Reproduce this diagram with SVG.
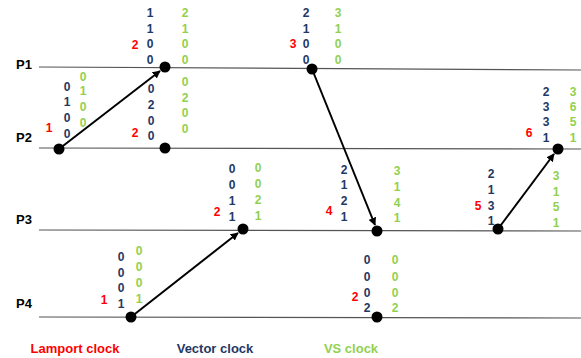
<svg xmlns="http://www.w3.org/2000/svg" width="581" height="358" viewBox="0 0 581 358">
<style>
text{font-family:"Liberation Sans",Arial,sans-serif;font-weight:bold;font-size:12px;text-anchor:middle;dominant-baseline:central}
.r{fill:#FF0000}
.v{fill:#1F3864}
.g{fill:#92D050}
.p{fill:#000;font-size:13px}
.proc{stroke:#555;stroke-width:1.2;fill:none}
.arr{stroke:#000;stroke-width:2;fill:none;marker-end:url(#ah)}
.dot{fill:#000}
.leg{font-size:13px}
</style>
<defs>
<marker id="ah" viewBox="0 0 10 10" refX="9" refY="5" markerWidth="4" markerHeight="4" orient="auto" markerUnits="strokeWidth">
<path d="M0,0 L10,5 L0,10 z" fill="#000"/>
</marker>
</defs>
<g id="processes">
<g id="P1"><line class="proc" x1="39" y1="67" x2="581" y2="70"/><text class="p" x="24" y="64">P1</text></g>
<g id="P2"><line class="proc" x1="39" y1="148" x2="581" y2="149"/><text class="p" x="24" y="137">P2</text></g>
<g id="P3"><line class="proc" x1="39" y1="230" x2="581" y2="231"/><text class="p" x="24" y="219">P3</text></g>
<g id="P4"><line class="proc" x1="39" y1="317" x2="581" y2="318"/><text class="p" x="24" y="303">P4</text></g>
</g>
<g id="connectors">
<line class="arr" x1="59" y1="149" x2="160" y2="71"/>
<line class="arr" x1="312" y1="69" x2="375" y2="225"/>
<line class="arr" x1="131" y1="317" x2="238" y2="233"/>
<line class="arr" x1="498" y1="229" x2="554" y2="154"/>
</g>
<g id="eA">
<circle class="dot" cx="59" cy="149" r="5.5"/>
<text class="r" x="49" y="128">1</text>
<text class="v" x="67" y="87">0</text><text class="v" x="67" y="102">1</text><text class="v" x="67" y="118">0</text><text class="v" x="67" y="134">0</text>
<text class="g" x="83" y="77">0</text><text class="g" x="83" y="91">1</text><text class="g" x="83" y="107">0</text><text class="g" x="83" y="123">0</text>
</g>
<g id="eB">
<circle class="dot" cx="165" cy="67" r="5.5"/>
<text class="r" x="135" y="45">2</text>
<text class="v" x="150" y="13">1</text><text class="v" x="150" y="29">1</text><text class="v" x="150" y="44">0</text><text class="v" x="150" y="60">0</text>
<text class="g" x="185" y="13">2</text><text class="g" x="185" y="29">1</text><text class="g" x="185" y="44">0</text><text class="g" x="185" y="60">0</text>
</g>
<g id="eC">
<circle class="dot" cx="165" cy="148" r="5.5"/>
<text class="r" x="135" y="133">2</text>
<text class="v" x="151" y="89">0</text><text class="v" x="151" y="105">2</text><text class="v" x="151" y="121">0</text><text class="v" x="151" y="136">0</text>
<text class="g" x="185" y="82">0</text><text class="g" x="185" y="98">2</text><text class="g" x="185" y="113">0</text><text class="g" x="185" y="129">0</text>
</g>
<g id="eD">
<circle class="dot" cx="312" cy="69" r="5.5"/>
<text class="r" x="293" y="44">3</text>
<text class="v" x="306" y="13">2</text><text class="v" x="306" y="29">1</text><text class="v" x="306" y="44">0</text><text class="v" x="306" y="60">0</text>
<text class="g" x="338" y="13">3</text><text class="g" x="338" y="29">1</text><text class="g" x="338" y="44">0</text><text class="g" x="338" y="60">0</text>
</g>
<g id="eE">
<circle class="dot" cx="377" cy="231" r="5.5"/>
<text class="r" x="329" y="211">4</text>
<text class="v" x="344" y="170">2</text><text class="v" x="344" y="185">1</text><text class="v" x="344" y="201">2</text><text class="v" x="344" y="217">1</text>
<text class="g" x="397" y="171">3</text><text class="g" x="397" y="187">1</text><text class="g" x="397" y="203">4</text><text class="g" x="397" y="218">1</text>
</g>
<g id="eF">
<circle class="dot" cx="498" cy="229" r="5.5"/>
<text class="r" x="478" y="206">5</text>
<text class="v" x="491" y="174">2</text><text class="v" x="491" y="190">1</text><text class="v" x="491" y="206">3</text><text class="v" x="491" y="221">1</text>
<text class="g" x="556" y="176">3</text><text class="g" x="556" y="192">1</text><text class="g" x="556" y="207">5</text><text class="g" x="556" y="223">1</text>
</g>
<g id="eG">
<circle class="dot" cx="558" cy="149" r="5.5"/>
<text class="r" x="529" y="133">6</text>
<text class="v" x="546" y="92">2</text><text class="v" x="546" y="107">3</text><text class="v" x="546" y="122">3</text><text class="v" x="546" y="138">1</text>
<text class="g" x="573" y="92">3</text><text class="g" x="573" y="107">6</text><text class="g" x="573" y="122">5</text><text class="g" x="573" y="138">1</text>
</g>
<g id="eH">
<circle class="dot" cx="243" cy="229" r="5.5"/>
<text class="r" x="217" y="212">2</text>
<text class="v" x="232" y="169">0</text><text class="v" x="232" y="185">0</text><text class="v" x="232" y="201">1</text><text class="v" x="232" y="217">1</text>
<text class="g" x="258" y="168">0</text><text class="g" x="258" y="184">0</text><text class="g" x="258" y="200">2</text><text class="g" x="258" y="216">1</text>
</g>
<g id="eI">
<circle class="dot" cx="131" cy="317" r="5.5"/>
<text class="r" x="104" y="300">1</text>
<text class="v" x="121" y="257">0</text><text class="v" x="121" y="273">0</text><text class="v" x="121" y="288">0</text><text class="v" x="121" y="304">1</text>
<text class="g" x="139" y="251">0</text><text class="g" x="139" y="267">0</text><text class="g" x="139" y="283">0</text><text class="g" x="139" y="299">1</text>
</g>
<g id="eJ">
<circle class="dot" cx="377" cy="317" r="5.5"/>
<text class="r" x="355" y="297">2</text>
<text class="v" x="367" y="260">0</text><text class="v" x="367" y="277">0</text><text class="v" x="367" y="293">0</text><text class="v" x="367" y="308">2</text>
<text class="g" x="395" y="260">0</text><text class="g" x="395" y="277">0</text><text class="g" x="395" y="293">0</text><text class="g" x="395" y="308">2</text>
</g>
<g id="legend">
<text class="r leg" x="75" y="348">Lamport clock</text>
<text class="v leg" x="215" y="348">Vector clock</text>
<text class="g leg" x="351" y="348">VS clock</text>
</g>
</svg>
